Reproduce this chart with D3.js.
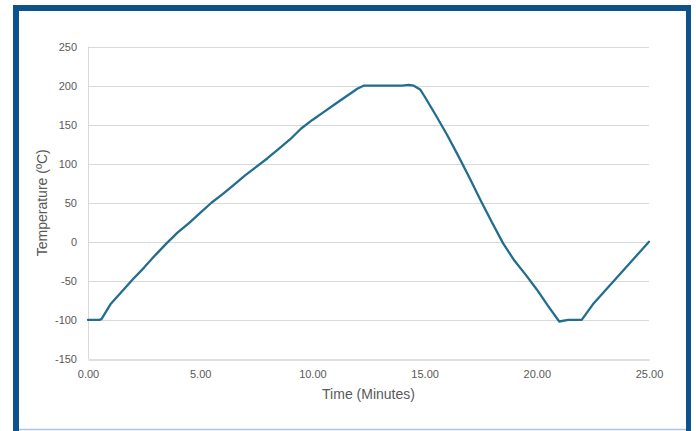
<!DOCTYPE html>
<html>
<head>
<meta charset="utf-8">
<script src="https://cdn.jsdelivr.net/npm/d3@7"></script>
<style>
  html, body { margin: 0; padding: 0; background: #fff; }
  svg { display: block; }
</style>
</head>
<body>
<svg id="chart" width="696" height="431"></svg>
<script>
const times = [0, 0.5, 0.6, 1.0, 1.5, 2.0, 2.5, 3.0, 3.5, 4.0, 4.5, 5.0, 5.5, 6.0, 6.5, 7.0, 7.5, 8.0, 8.5, 9.0, 9.5, 10.0, 10.5, 11.0, 11.5, 12.0, 12.3, 13.0, 13.5, 14.0, 14.3, 14.5, 14.8, 15.0, 15.5, 16.0, 16.5, 17.0, 17.5, 18.0, 18.5, 19.0, 19.5, 20.0, 20.5, 21.0, 21.4, 22.0, 22.5, 23.0, 23.5, 24.0, 24.5, 25.0];
const temps = [-100, -100, -99, -80, -64, -48, -33, -17, -2, 12, 24, 37, 50, 61, 73, 85, 96, 107, 119, 131, 145, 156, 166, 176, 186, 196, 200, 200, 200, 200, 201, 200, 195, 186, 162, 137, 110, 82, 53, 25, -2, -24, -42, -61, -82, -102, -100, -100, -80, -64, -48, -32, -16, 0];
const xTicks = [0, 5, 10, 15, 20, 25];
const yTicks = [-150, -100, -50, 0, 50, 100, 150, 200, 250];
const xTitle = "Time (Minutes)";
const yTitle = "Temperature (ºC)";

const svg = d3.select("#chart");
const frameColor = "#0d5288";
const font = "'Liberation Sans', Arial, sans-serif";

// frame
svg.append("rect").attr("x", 13).attr("y", 5).attr("width", 678).attr("height", 426).attr("fill", "#fff");
svg.append("line").attr("x1", 19).attr("x2", 686).attr("y1", 429.5).attr("y2", 429.5).attr("stroke", "#a9c8e4").attr("stroke-width", 1.5);
svg.append("rect").attr("x", 13).attr("y", 5).attr("width", 6).attr("height", 426).attr("fill", frameColor);
svg.append("rect").attr("x", 13).attr("y", 5).attr("width", 678).attr("height", 6).attr("fill", frameColor);
svg.append("rect").attr("x", 686).attr("y", 5).attr("width", 5).attr("height", 426).attr("fill", frameColor);

const x = d3.scaleLinear().domain([0, 25]).range([88, 649]);
const y = d3.scaleLinear().domain([-150, 250]).range([359, 46.5]);

// gridlines
svg.append("g").selectAll("line").data(yTicks.filter(d => d !== -150)).join("line")
  .attr("x1", x(0)).attr("x2", x(25))
  .attr("y1", d => Math.round(y(d)) + 0.5).attr("y2", d => Math.round(y(d)) + 0.5)
  .attr("stroke", "#d9d9d9").attr("stroke-width", 1);

// left axis line
svg.append("line").attr("x1", 88.5).attr("x2", 88.5).attr("y1", y(250)).attr("y2", y(-150))
  .attr("stroke", "#d9d9d9").attr("stroke-width", 1);

// bottom axis
const xAxis = d3.axisBottom(x).tickValues(xTicks).tickSize(0).tickPadding(0).tickFormat(d => d.toFixed(2));
const gx = svg.append("g").attr("transform", `translate(0,${Math.round(y(-150)) + 0.5})`).call(xAxis);
gx.select(".domain").attr("stroke", "#bfbfbf");
gx.selectAll("text").attr("dy", "18px").attr("y", 0).attr("fill", "#595959")
  .style("font-family", font).style("font-size", "11px");

// left axis labels
const yAxis = d3.axisLeft(y).tickValues(yTicks).tickSize(0).tickPadding(11).tickFormat(d => String(d));
const gy = svg.append("g").attr("transform", `translate(88,0)`).call(yAxis);
gy.select(".domain").remove();
gy.selectAll("text").attr("fill", "#595959")
  .style("font-family", font).style("font-size", "11px");

// line
const data = times.map((t, i) => ({ t, v: temps[i] }));
svg.append("path").datum(data)
  .attr("fill", "none").attr("stroke", "#236d8f").attr("stroke-width", 2.3)
  .attr("stroke-linejoin", "round").attr("stroke-linecap", "round")
  .attr("d", d3.line().x(d => x(d.t)).y(d => y(d.v)));

// titles
svg.append("text").attr("x", 368.5).attr("y", 399).attr("text-anchor", "middle")
  .attr("fill", "#595959").style("font-family", font).style("font-size", "14px")
  .text(xTitle);
svg.append("text").attr("transform", `translate(47,${(y(250) + y(-150)) / 2}) rotate(-90)`)
  .attr("text-anchor", "middle")
  .attr("fill", "#595959").style("font-family", font).style("font-size", "14px")
  .text(yTitle);
</script>
</body>
</html>
